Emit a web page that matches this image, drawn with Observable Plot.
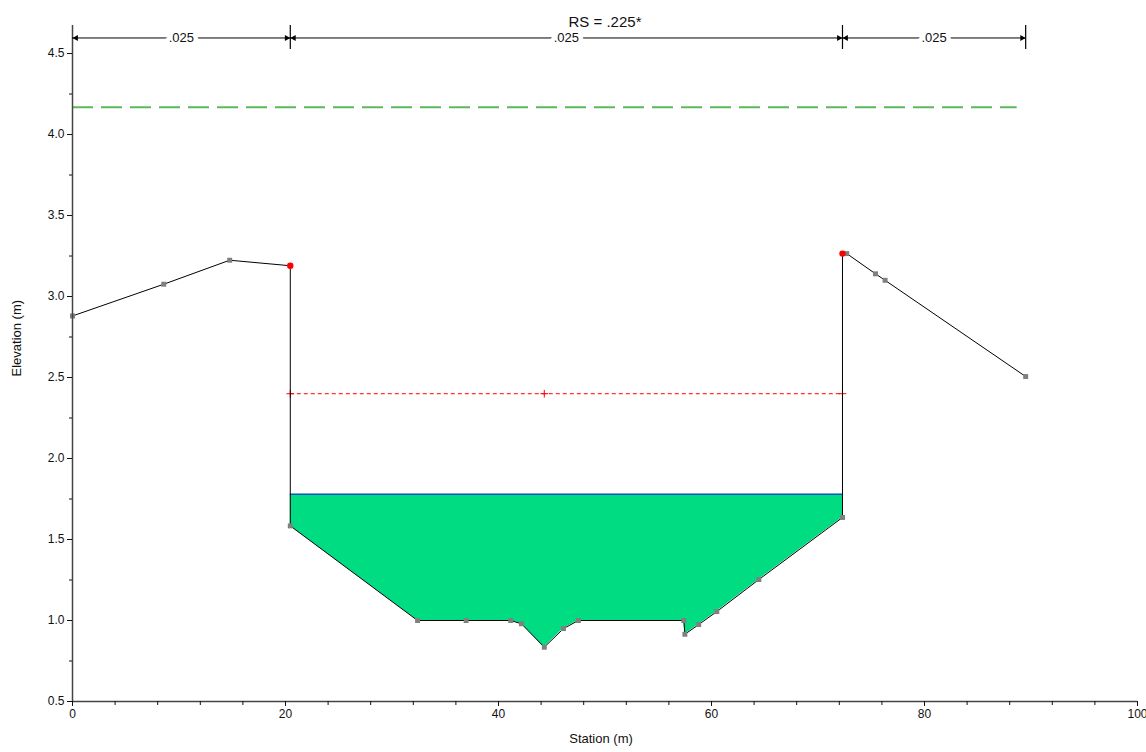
<!DOCTYPE html>
<html><head><meta charset="utf-8">
<script src="https://cdn.jsdelivr.net/npm/d3@7"></script>
<script src="https://cdn.jsdelivr.net/npm/@observablehq/plot@0.6"></script>
<style>body{margin:0;background:#fff}</style>
</head><body><div id="chart"></div>
<script>
// Cross-section ground points
const stations   = [0, 8.57, 14.76, 20.45, 20.45, 32.4, 36.96, 41.15, 42.15, 44.3, 46.1, 47.5, 57.4, 57.5, 58.8, 60.5, 64.45, 72.3, 72.3, 72.7, 75.4, 76.3, 89.5];
const elevations = [2.88, 3.076, 3.224, 3.19, 1.584, 1.0, 1.0, 1.0, 0.98, 0.835, 0.95, 1.0, 1.0, 0.915, 0.975, 1.055, 1.253, 1.636, 3.265, 3.265, 3.14, 3.10, 2.506];
// Bank stations
const bankStations = [20.45, 72.3];
const bankElevations = [3.19, 3.265];
// Water surface, dashed lines
const wsElev = 1.78;
const redDashElev = 2.40;
const redDashStations = [20.45, 44.3, 72.3];
const greenDashElev = 4.168;
const greenDashRange = [0, 88.7];
// Manning's n regions
const nBreaks = [0, 20.45, 72.3, 89.5];
const nValues = [".025", ".025", ".025"];
const dimElev = 4.596;
const dimTickRange = [4.525, 4.673];
// Axes
const xMajor = [0, 20, 40, 60, 80, 100];
const xMinor = d3.range(0, 101, 4);
const yMajor = [0.5, 1.0, 1.5, 2.0, 2.5, 3.0, 3.5, 4.0, 4.5];
const yMinor = [0.75, 1.25, 1.75, 2.25, 2.75, 3.25, 3.75, 4.25];
const title = "RS = .225*";
const xLabel = "Station (m)";
const yLabel = "Elevation (m)";

const ground = stations.map((s, i) => ({s, e: elevations[i]}));
const channel = ground.slice(4, 18);
const banks = bankStations.map((s, i) => ({s, e: bankElevations[i]}));
const segs = d3.pairs(nBreaks).map(([a, b], i) => ({x1: a, x2: b, xm: (a + b) / 2, n: nValues[i]}));

const chart = Plot.plot({
  width: 1146, height: 752,
  marginLeft: 72, marginRight: 9, marginTop: 25, marginBottom: 51,
  x: {domain: [0, 100], axis: null},
  y: {domain: [0.5, 4.673], axis: null},
  style: {fontFamily: "Arial, 'Liberation Sans', sans-serif", background: "white", color: "#111"},
  marks: [
    // water fill
    Plot.areaY(channel, {x: "s", y1: "e", y2: wsElev, fill: "#00DC82"}),
    Plot.ruleY([wsElev], {x1: channel[0].s, x2: channel[channel.length - 1].s, stroke: "#1010E0", strokeWidth: 1}),
    // dashed lines
    Plot.ruleY([greenDashElev], {x1: greenDashRange[0], x2: greenDashRange[1], stroke: "#5CB85C", strokeWidth: 2, strokeDasharray: "21,8"}),
    Plot.ruleY([redDashElev], {x1: redDashStations[0], x2: redDashStations[2], stroke: "#FF0000", strokeWidth: 1, strokeDasharray: "4,3"}),
    Plot.dot(redDashStations, {x: d => d, y: redDashElev, symbol: "plus", r: 2.6, stroke: "#FF0000", strokeWidth: 1}),
    // ground
    Plot.line(ground, {x: "s", y: "e", stroke: "#000", strokeWidth: 1}),
    Plot.dot(ground, {x: "s", y: "e", symbol: "square", r: 2.8, fill: "#808080"}),
    Plot.dot(banks, {x: "s", y: "e", r: 3.2, fill: "#FF0000"}),
    // axes
    Plot.ruleX([0], {y1: 0.5, y2: 4.673, stroke: "#444", strokeWidth: 1.5}),
    Plot.ruleY([0.5], {x1: 0, x2: 100, stroke: "#444", strokeWidth: 1.5}),
    Plot.axisX({ticks: xMinor, tickSize: 4, tickFormat: () => "", label: null}),
    Plot.axisX({ticks: xMajor, tickSize: 5, tickPadding: 3, fontSize: 12, label: null}),
    Plot.axisY({ticks: yMinor, tickSize: 3, tickFormat: () => "", label: null}),
    Plot.axisY({ticks: yMajor, tickSize: 5, tickPadding: 3, fontSize: 12, tickFormat: d3.format(".1f"), label: null}),
    // n-value dimension lines
    Plot.ruleY(segs, {y: dimElev, x1: "x1", x2: "x2", stroke: "#000", strokeWidth: 1}),
    Plot.ruleX(nBreaks.slice(1), {x: d => d, y1: dimTickRange[0], y2: dimTickRange[1], stroke: "#000", strokeWidth: 1.2}),
    Plot.dot(segs, {x: "x2", y: dimElev, symbol: "triangle", rotate: 90, r: 2.3, fill: "#000", dx: -3.6}),
    Plot.dot(segs, {x: "x1", y: dimElev, symbol: "triangle", rotate: -90, r: 2.3, fill: "#000", dx: 3.6}),
    Plot.text(segs, {x: "xm", y: dimElev, text: "n", fontSize: 13, fill: "#111", stroke: "white", strokeWidth: 9, paintOrder: "stroke"}),
    // labels
    Plot.text([title], {frameAnchor: "top", dy: -9, fontSize: 15, fill: "#111"}),
    Plot.text([xLabel], {frameAnchor: "bottom", dy: 41, dx: -4, fontSize: 13, fill: "#111"}),
    Plot.text([yLabel], {frameAnchor: "left", rotate: -90, dx: -56, dy: 13, fontSize: 13, fill: "#111"})
  ]
});
document.getElementById("chart").appendChild(chart);
</script></body></html>
